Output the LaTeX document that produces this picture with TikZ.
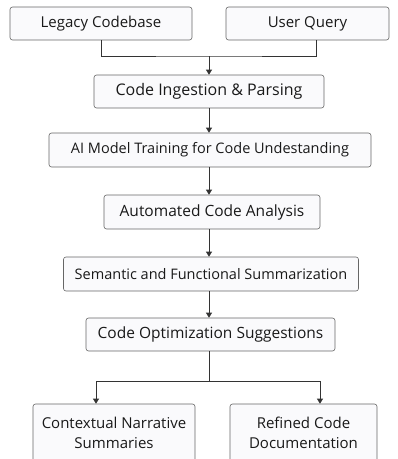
\documentclass[tikz,border=0pt]{standalone}
\usepackage{fontspec}
\setmainfont{Open Sans}
\usetikzlibrary{arrows.meta}
\definecolor{boxfill}{HTML}{FAFAFC}

\begin{document}
\begin{tikzpicture}[x=1pt,y=-1pt,
			box/.style={draw=black!60,fill=boxfill,text=black!90,rounded corners=2.5pt,
				line width=0.6pt,align=center,inner sep=0pt,
				font=\fontsize{15}{20}\selectfont},
			small/.style={font=\fontsize{14.5}{20}\selectfont},
			wide/.style={font=\fontsize{15.5}{20}\selectfont},
			link/.style={draw=black!80,line width=0.6pt},
			arr/.style={link,-{Triangle[length=5pt,width=6pt]}}]
\useasboundingbox (0,0) rectangle (398,459);
% inputs
\node[box,minimum width=182,minimum height=33] (legacy) at (101,23.5) {Legacy Codebase};
\node[box,minimum width=163,minimum height=33] (query) at (307.5,23.5) {User Query};
% pipeline
\node[box,font=\fontsize{16}{20}\selectfont,minimum width=230,minimum height=33] (ingest) at (209,91.5) {Code Ingestion \& Parsing};
\node[box,small,minimum width=322,minimum height=34] (train) at (210,150) {AI Model Training for Code Undestanding};
\node[box,wide,minimum width=216,minimum height=34] (analysis) at (212,212) {Automated Code Analysis};
\node[box,small,minimum width=295,minimum height=34] (semantic) at (211,274) {Semantic and Functional Summarization};
\node[box,wide,minimum width=249,minimum height=33] (optim) at (210.5,334.5) {Code Optimization Suggestions};
% outputs
\node[box,minimum width=162,minimum height=58] (narr) at (114,433) {Contextual Narrative\\Summaries};
\node[box,minimum width=147,minimum height=58] (refined) at (303.5,433) {Refined Code\\Documentation};

\coordinate (join) at (209,56);
\coordinate (split) at (209,381);
\draw[link] (legacy.south) |- (join) -| ([xshift=8.5]query.south);
\draw[arr] (join) -- (join |- ingest.north);
\draw[arr] (ingest.south) -- (ingest.south |- train.north);
\draw[arr] (train.south -| ingest.south) -- (ingest.south |- analysis.north);
\draw[arr] (analysis.south -| ingest.south) -- (ingest.south |- semantic.north);
\draw[arr] (semantic.south -| ingest.south) -- (ingest.south |- optim.north);
\draw[link] (optim.south -| split) -- (split);
\draw[arr] (split) -| ([xshift=-18]narr.north);
\draw[arr] (split) -| ([xshift=16.5]refined.north);
\end{tikzpicture}
\end{document}
